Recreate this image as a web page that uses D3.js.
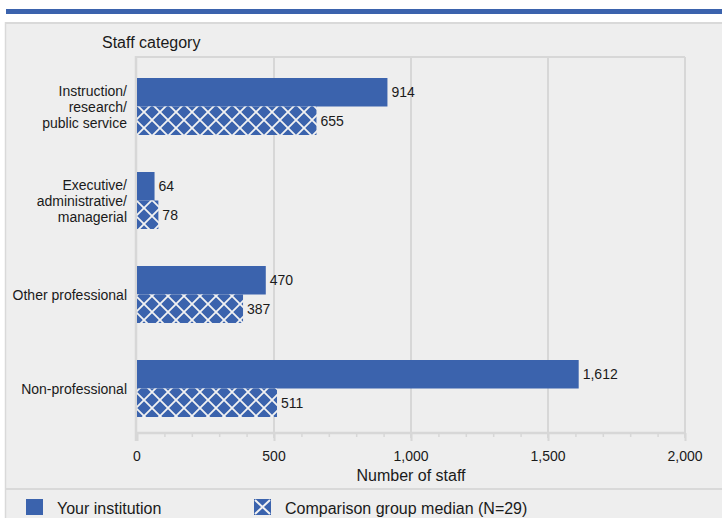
<!DOCTYPE html>
<html>
<head>
<meta charset="utf-8">
<script src="https://cdn.jsdelivr.net/npm/d3@7"></script>
<style>
  body { margin: 0; background: #fff; }
  text { font-family: "Liberation Sans", Arial, sans-serif; fill: #1a1a1a; }
</style>
</head>
<body>
<div id="chart"></div>
<script>
// data
var categories = [
  ["Instruction/", "research/", "public service"],
  ["Executive/", "administrative/", "managerial"],
  ["Other professional"],
  ["Non-professional"]
];
var yourInstitution = [914, 64, 470, 1612];
var comparisonMedian = [655, 78, 387, 511];
var xTicks = [0, 500, 1000, 1500, 2000];
var seriesNames = ["Your institution", "Comparison group median (N=29)"];

var W = 722, H = 518;
var blue = "#3b63ad", grid = "#d7d7d7";

var svg = d3.select("#chart").append("svg").attr("width", W).attr("height", H);

// hatch pattern
var P = 16;
var defs = svg.append("defs");
var pat = defs.append("pattern").attr("id", "hatch")
  .attr("patternUnits", "userSpaceOnUse").attr("width", P).attr("height", P);
pat.append("rect").attr("width", P).attr("height", P).attr("fill", blue);
pat.append("path")
  .attr("d", "M-4,-4L" + (P + 4) + "," + (P + 4) + "M-4," + (P + 4) + "L" + (P + 4) + ",-4")
  .attr("stroke", "#f2f2f2").attr("stroke-width", 1.8);

// top stripe + panel
svg.append("rect").attr("x", 6).attr("y", 9).attr("width", W - 6).attr("height", 5).attr("fill", blue);
svg.append("rect").attr("x", 5).attr("y", 22).attr("width", W - 5).attr("height", H - 22)
  .attr("fill", "#eeeeee");
svg.append("line").attr("x1", 5).attr("x2", W).attr("y1", 23).attr("y2", 23)
  .attr("stroke", "#d9d9d9").attr("stroke-width", 2);
svg.append("line").attr("x1", 5.5).attr("x2", 5.5).attr("y1", 22).attr("y2", H)
  .attr("stroke", "#d9d9d9").attr("stroke-width", 1.5);
svg.append("line").attr("x1", 5).attr("x2", W).attr("y1", 489).attr("y2", 489)
  .attr("stroke", "#d9d9d9").attr("stroke-width", 2);

var x = d3.scaleLinear().domain([0, 2000]).range([137, 685]);
var y = d3.scaleBand().domain(d3.range(categories.length)).range([59.5, 435.5]);
var plotTop = 57, plotBottom = 433;
var barH = 28.5;

// gridlines
svg.selectAll(".grid").data(xTicks.slice(1)).enter().append("line")
  .attr("x1", d => x(d)).attr("x2", d => x(d))
  .attr("y1", plotTop).attr("y2", plotBottom + 5)
  .attr("stroke", grid).attr("stroke-width", 2);
svg.append("line").attr("x1", 136).attr("x2", 685).attr("y1", plotTop).attr("y2", plotTop)
  .attr("stroke", grid).attr("stroke-width", 2);

// x axis
var xAxis = d3.axisBottom(x).tickValues(d3.range(0, 2001, 100)).tickSize(4).tickFormat("");
var gx = svg.append("g").attr("transform", "translate(0," + plotBottom + ")").call(xAxis);
gx.select(".domain").attr("stroke", grid).attr("stroke-width", 2.5).attr("d", "M136,0H686");
gx.selectAll(".tick line").attr("stroke", grid).attr("stroke-width", 1.5);
gx.selectAll(".tick").filter(d => d % 500 === 0).select("line").attr("y2", 8).attr("stroke-width", 2);
svg.selectAll(".xlab").data(xTicks).enter().append("text")
  .attr("x", d => x(d)).attr("y", 461).attr("text-anchor", "middle")
  .style("font-size", "14px").text(d3.format(","));
svg.append("text").attr("x", 411).attr("y", 481).attr("text-anchor", "middle")
  .style("font-size", "16px").text("Number of staff");

// y axis line
svg.append("line").attr("x1", 136).attr("x2", 136).attr("y1", plotTop - 1).attr("y2", plotBottom + 8)
  .attr("stroke", grid).attr("stroke-width", 2.5);
svg.append("text").attr("x", 102).attr("y", 48).style("font-size", "16px").text("Staff category");

// category labels
categories.forEach(function (lines, i) {
  var cy = y(i) + y.bandwidth() / 2;
  var t = svg.append("text").attr("text-anchor", "end").style("font-size", "14px");
  lines.forEach(function (l, j) {
    t.append("tspan").attr("x", 127)
      .attr("y", cy + 5 + (j - (lines.length - 1) / 2) * 16).text(l);
  });
});

// bars
var fmt = d3.format(",");
var series = [yourInstitution, comparisonMedian];
series.forEach(function (vals, s) {
  svg.selectAll(".bar" + s).data(vals).enter().append("rect")
    .attr("x", x(0)).attr("width", d => x(d) - x(0))
    .attr("y", (d, i) => y(i) + y.bandwidth() / 2 - barH + s * barH)
    .attr("height", barH)
    .attr("fill", s === 0 ? blue : "url(#hatch)");
  svg.selectAll(".val" + s).data(vals).enter().append("text")
    .attr("x", d => x(d) + 4)
    .attr("y", (d, i) => y(i) + y.bandwidth() / 2 - barH / 2 + s * barH + 5)
    .style("font-size", "14px").text(fmt);
});

// legend
var leg = [[26, 57], [254, 285]];
leg.forEach(function (p, s) {
  svg.append("rect").attr("x", p[0]).attr("y", 499).attr("width", 17).attr("height", 16)
    .attr("fill", blue);
  if (s === 1) {
    svg.append("path").attr("d", "M" + (p[0] + 1) + ",500L" + (p[0] + 16) + ",514M" + (p[0] + 16) + ",500L" + (p[0] + 1) + ",514")
      .attr("stroke", "#f2f2f2").attr("stroke-width", 2);
  }
  svg.append("text").attr("x", p[1]).attr("y", 514).style("font-size", "16px").text(seriesNames[s]);
});
</script>
</body>
</html>
